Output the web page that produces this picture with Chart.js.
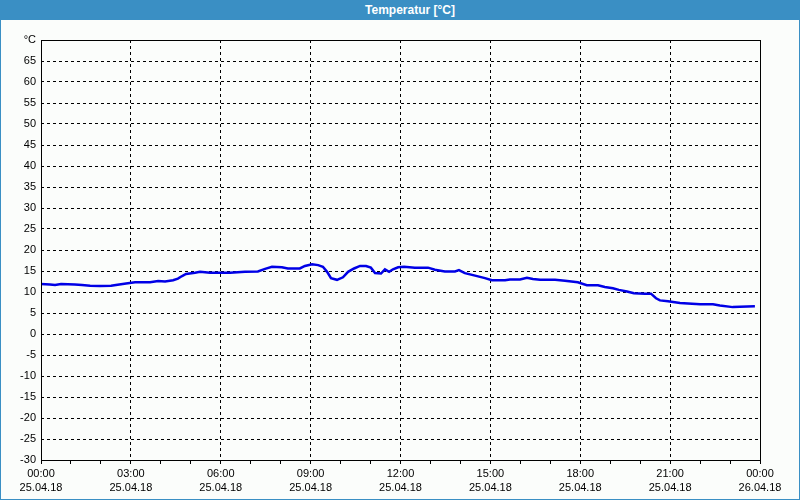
<!DOCTYPE html>
<html>
<head>
<meta charset="utf-8">
<script src="https://cdn.jsdelivr.net/npm/chart.js@4"></script>
<style>
  html, body { margin: 0; padding: 0; background: #fff; }
  #frame {
    position: absolute; left: 0; top: 0; width: 800px; height: 500px;
    box-sizing: border-box; border: 1px solid #3a8fc4; border-top: none;
    background: #fbfdfb;
  }
  #title {
    position: absolute; left: 0; top: 0; width: 798px; height: 20px;
    background: #3a8fc4; color: #fff; text-align: center;
    font: bold 12px "Liberation Sans", sans-serif; line-height: 21px;
    padding-left: 20px; box-sizing: border-box;
  }
  #wrap { position: absolute; left: 0; top: 20px; width: 798px; height: 479px; }
</style>
</head>
<body>
<div id="frame">
  <div id="title">Temperatur [°C]</div>
  <div id="wrap"><canvas id="chart"></canvas></div>
</div>
<script>
// Zeit in Stunden ab 25.04.18 00:00
const hours = [0, 0.30, 0.47, 0.67, 1.13, 1.37, 1.64, 1.97, 2.34, 2.50, 2.84, 3.14, 3.64, 3.91,
  4.14, 4.41, 4.57, 4.71, 4.84, 5.14, 5.31, 5.64, 6.31, 6.81, 7.24, 7.48, 7.71, 8.04, 8.24,
  8.64, 8.81, 9.05, 9.25, 9.41, 9.55, 9.68, 9.88, 10.08, 10.25, 10.45, 10.65, 10.85, 11.01,
  11.15, 11.35, 11.48, 11.62, 11.75, 11.92, 12.12, 12.48, 12.92, 13.15, 13.48, 13.82, 13.95,
  14.15, 14.49, 14.82, 15.05, 15.49, 15.65, 15.99, 16.22, 16.42, 16.66, 17.16, 17.49, 17.92,
  18.22, 18.59, 18.82, 19.09, 19.29, 19.56, 19.79, 20.16, 20.36, 20.53, 20.66, 20.93, 21.33,
  22.00, 22.43, 22.66, 23.09, 23.33, 23.83];
const temps = [11.9, 11.8, 11.67, 11.9, 11.8, 11.67, 11.5, 11.43, 11.5, 11.67, 12.0, 12.3, 12.3, 12.6,
  12.5, 12.8, 13.2, 13.8, 14.3, 14.6, 14.8, 14.6, 14.6, 14.8, 14.9, 15.5, 16.0, 15.9, 15.6,
  15.6, 16.2, 16.6, 16.4, 16.0, 14.8, 13.3, 12.9, 13.5, 14.8, 15.6, 16.2, 16.2, 15.8,
  14.5, 14.4, 15.4, 14.8, 15.4, 15.9, 16.0, 15.8, 15.8, 15.3, 14.9, 14.9, 15.2,
  14.5, 13.9, 13.3, 12.8, 12.8, 13.0, 13.0, 13.4, 13.1, 12.9, 12.9, 12.7, 12.3,
  11.6, 11.6, 11.2, 10.9, 10.5, 10.1, 9.7, 9.6, 9.6, 8.5, 8.0, 7.8, 7.4,
  7.1, 7.1, 6.8, 6.4, 6.5, 6.6];

// Achsenbeschriftungen
const timeLabels = ['00:00', '03:00', '06:00', '09:00', '12:00', '15:00', '18:00', '21:00', '00:00'];
const dateLabels = ['25.04.18', '25.04.18', '25.04.18', '25.04.18', '25.04.18', '25.04.18', '25.04.18', '25.04.18', '26.04.18'];
const yMin = -30, yMax = 70, yStep = 5;
const yUnit = '°C';

const font = { family: 'Liberation Sans', size: 11, lineHeight: 1.36 };

// Rahmen um den Plotbereich
const frameBox = {
  id: 'frameBox',
  afterDatasetsDraw(chart) {
    const { ctx, chartArea: a } = chart;
    ctx.save();
    ctx.strokeStyle = '#000';
    ctx.lineWidth = 1;
    ctx.setLineDash([]);
    ctx.strokeRect(Math.round(a.left) + 0.5, Math.round(a.top) + 0.5,
      Math.round(a.right - a.left), Math.round(a.bottom - a.top));
    ctx.restore();
  }
};

new Chart(document.getElementById('chart'), {
  type: 'line',
  data: {
    datasets: [{
      data: hours.map((h, i) => ({ x: h, y: temps[i] })),
      borderColor: '#0000e6',
      borderWidth: 2.5,
      pointRadius: 0,
      tension: 0,
      fill: false
    }]
  },
  options: {
    responsive: true,
    maintainAspectRatio: false,
    animation: false,
    layout: { padding: { top: 20, right: 39, left: 0, bottom: 0 } },
    plugins: { legend: { display: false }, tooltip: { enabled: false } },
    scales: {
      x: {
        type: 'linear',
        min: 0, max: 24,
        // in v4 gilt border.dash auch fuer die Gitterlinien
        border: { display: false, dash: [3, 3] },
        afterFit(scale) { scale.height = 39; },
        ticks: {
          stepSize: 1,
          autoSkip: false,
          maxRotation: 0,
          color: '#000',
          font: font,
          padding: 2,
          callback: (v) => v % 3 === 0 ? [timeLabels[v / 3], dateLabels[v / 3]] : ''
        },
        grid: {
          color: (c) => (c.tick && c.tick.value % 3 === 0 && c.tick.value > 0 && c.tick.value < 24) ? '#000' : 'rgba(0,0,0,0)',
          tickColor: '#000',
          tickLength: 4,
          tickBorderDash: [],
          lineWidth: 1
        }
      },
      y: {
        min: yMin, max: yMax,
        border: { display: false, dash: [3, 3] },
        afterFit(scale) { scale.width = 40; },
        ticks: {
          stepSize: yStep,
          color: '#000',
          font: font,
          padding: 5,
          callback: (v) => v === yMax ? yUnit : v
        },
        grid: {
          color: (c) => (c.tick && c.tick.value > yMin && c.tick.value < yMax) ? '#000' : 'rgba(0,0,0,0)',
          drawTicks: false,
          lineWidth: 1
        }
      }
    }
  },
  plugins: [frameBox]
});
</script>
</body>
</html>
